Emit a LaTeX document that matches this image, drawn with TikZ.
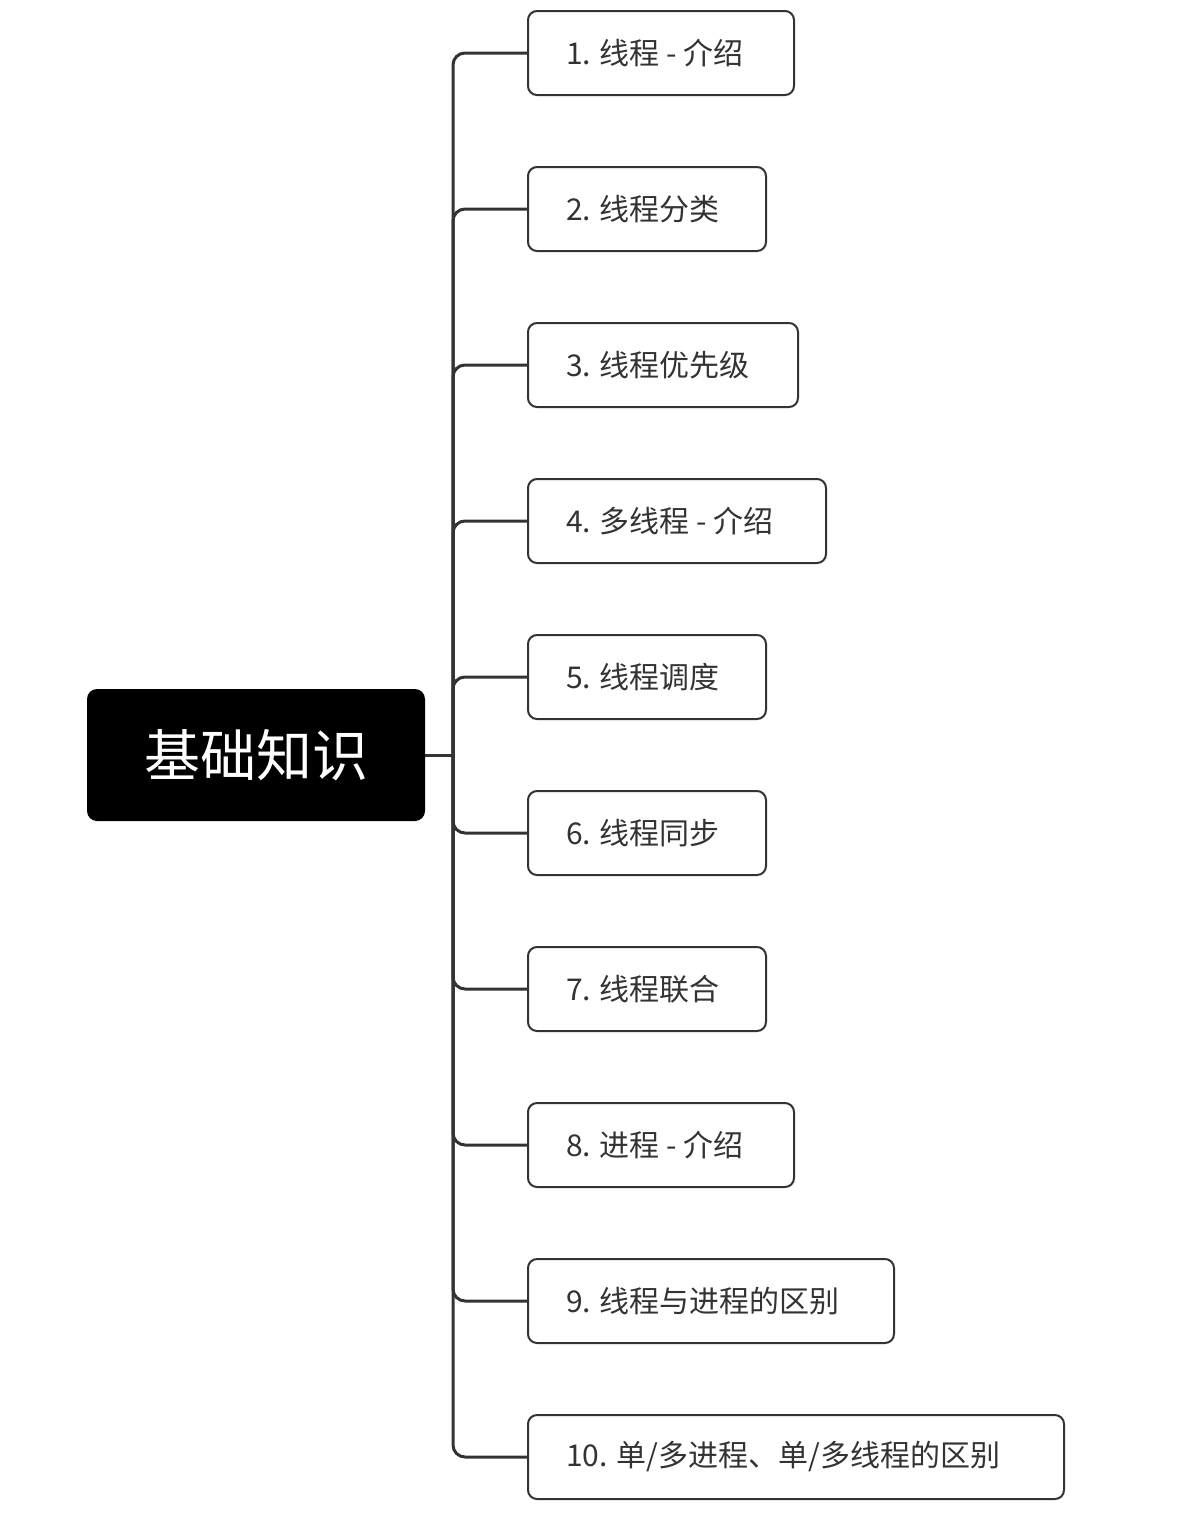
\documentclass[tikz,border=0pt]{standalone}
\usepackage{fontspec}
\newfontfamily\cjk{Noto Sans CJK SC}
\definecolor{ln}{HTML}{333333}
\definecolor{tx}{HTML}{333333}
\begin{document}
\begin{tikzpicture}[x=1pt,y=-1pt,
  kid/.style={draw=ln,line width=2pt,rounded corners=9pt,minimum height=84pt,anchor=west,inner xsep=0pt,font=\cjk\fontsize{30}{36}\selectfont,text=tx},
  conn/.style={draw=ln,line width=3pt,rounded corners=12pt}]
\useasboundingbox (0,0) rectangle (1178,1524);
\node[fill=black,rounded corners=10pt,minimum width=338pt,minimum height=132pt,text=white,font=\cjk\fontsize{56}{64}\selectfont] (root) at (256,755) {基础知识};
\coordinate (tr) at (453,755);
\foreach \i/\y/\r/\t in {1/53/793/{1. 线程 - 介绍},2/209/765/{2. 线程分类},3/365/797/{3. 线程优先级},4/521/825/{4. 多线程 - 介绍},5/677/765/{5. 线程调度},6/833/765/{6. 线程同步},7/989/765/{7. 线程联合},8/1145/793/{8. 进程 - 介绍},9/1301/893/{9. 线程与进程的区别},10/1457/1063/{10. 单/多进程、单/多线程的区别}}{
  \pgfmathsetmacro{\w}{\r-527}
  \pgfmathsetmacro{\iw}{\r-527-38}
  \node[kid,minimum width=\w pt] (c\i) at (527,\y) {\hspace*{38pt}\makebox[\iw pt][l]{\t}};
  \draw[conn] (tr) |- (c\i.west);
}
\draw[conn] (root.east) -- (tr);
\end{tikzpicture}
\end{document}
